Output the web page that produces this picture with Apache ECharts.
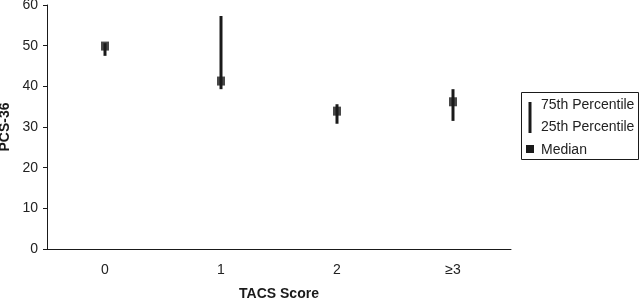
<!DOCTYPE html>
<html><head><meta charset="utf-8">
<script src="https://cdn.jsdelivr.net/npm/echarts@6/dist/echarts.min.js"></script>
<style>html,body{margin:0;padding:0;background:#fff}#c{width:640px;height:299px}</style>
</head><body><div id="c"></div>
<script>
var categories = ['0', '1', '2', '≥3'];
var p75 = [50.6, 57.3, 35.6, 39.3];
var p25 = [47.5, 39.3, 30.8, 31.5];
var median = [49.9, 41.3, 33.9, 36.2];
var yTicks = [0, 10, 20, 30, 40, 50, 60];

var ink = '#1a1a1a';
var font = 'Liberation Sans, Arial, sans-serif';
var chart = echarts.init(document.getElementById('c'), null, {renderer: 'canvas'});
var rangeData = categories.map(function (c, i) { return [i, p25[i], p75[i]]; });

chart.setOption({
  animation: false,
  backgroundColor: '#fff',
  grid: {left: 47, right: 129, top: 5, bottom: 50, containLabel: false, outerBoundsMode: 'none'},
  xAxis: {
    type: 'category', data: categories, boundaryGap: true,
    axisLine: {lineStyle: {color: ink, width: 1}},
    axisTick: {show: false},
    axisLabel: {color: '#222', fontFamily: font, fontSize: 14, margin: 14},
    name: 'TACS Score', nameLocation: 'middle', nameGap: 38, nameMoveOverlap: false,
    nameTextStyle: {fontFamily: font, fontWeight: 'bold', fontSize: 14, color: ink}
  },
  yAxis: {
    type: 'value', min: yTicks[0], max: yTicks[yTicks.length - 1], interval: 10,
    splitLine: {show: false},
    axisLine: {show: true, lineStyle: {color: ink, width: 1}},
    axisTick: {show: true, length: 4, lineStyle: {color: ink}},
    axisLabel: {color: '#222', fontFamily: font, fontSize: 14, margin: 9},
    name: 'PCS-36', nameLocation: 'middle', nameGap: 35, nameRotate: 90, nameMoveOverlap: false,
    nameTextStyle: {fontFamily: font, fontWeight: 'bold', fontSize: 14, color: ink}
  },
  series: [
    {
      type: 'custom', data: rangeData,
      renderItem: function (params, api) {
        var a = api.coord([api.value(0), api.value(1)]);
        var b = api.coord([api.value(0), api.value(2)]);
        return {type: 'line', shape: {x1: a[0], y1: a[1], x2: b[0], y2: b[1]},
          style: {stroke: ink, lineWidth: 3}};
      },
      encode: {x: 0, y: [1, 2]}
    },
    {
      type: 'scatter', data: median, symbol: 'rect', symbolSize: [8, 9],
      itemStyle: {color: ink}, z: 5
    }
  ],
  graphic: [
    {type: 'rect', shape: {x: 521.5, y: 92.5, width: 117, height: 67},
      style: {fill: '#fff', stroke: ink, lineWidth: 1}},
    {type: 'line', shape: {x1: 530, y1: 102, x2: 530, y2: 133}, style: {stroke: ink, lineWidth: 3}},
    {type: 'text', x: 541, y: 105, style: {text: '75th Percentile', fill: '#222', font: '14px ' + font, textVerticalAlign: 'middle'}},
    {type: 'text', x: 541, y: 127, style: {text: '25th Percentile', fill: '#222', font: '14px ' + font, textVerticalAlign: 'middle'}},
    {type: 'rect', shape: {x: 526, y: 145, width: 8, height: 8}, style: {fill: ink}},
    {type: 'text', x: 541, y: 150, style: {text: 'Median', fill: '#222', font: '14px ' + font, textVerticalAlign: 'middle'}}
  ]
});
</script></body></html>
